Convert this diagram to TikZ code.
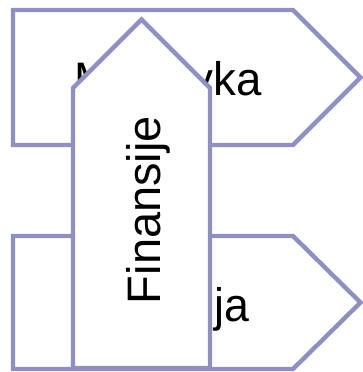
\documentclass[tikz,border=0pt]{standalone}
\usepackage{tkz-euclide}
\usepackage{fontspec}
\setmainfont{Liberation Sans}
\definecolor{frame}{RGB}{144,144,192}
\tikzset{>=stealth,
  box/.style={draw=frame, line width=4.4pt, fill=white, line join=miter},
  lbl/.style={inner sep=0pt, anchor=base, font=\fontsize{47}{47}\selectfont}}

\begin{document}
\begin{tikzpicture}[x=1pt,y=-1pt]
    \useasboundingbox (0,0) rectangle (362,372);
    \tkzDefPoints{13/10/A, 293/10/B, 360.5/77.5/C, 293/145/D, 13/145/E}
    \tkzDefPoints{13/236/F, 293/236/G, 360.5/302.5/H, 293/369/I, 13/369/J}
    \tkzDefPoints{73/368/K, 73/88/L, 141.5/19.5/M, 210/88/N, 210/368/O}
    \tkzDrawPolygon[box](A,B,C,D,E)
    \node[lbl] (top) at (168,95) {\scalebox{0.97}[1]{Motoryka}};
    \tkzDrawPolygon[box](F,G,H,I,J)
    \node[lbl] (bottom) at (174,321.5) {\scalebox{0.95}[1]{Inflacija}};
    \tkzDrawPolygon[box](K,L,M,N,O)
    \node[lbl, rotate=90] (mid) at (160,210) {Finansije};
\end{tikzpicture}
\end{document}
